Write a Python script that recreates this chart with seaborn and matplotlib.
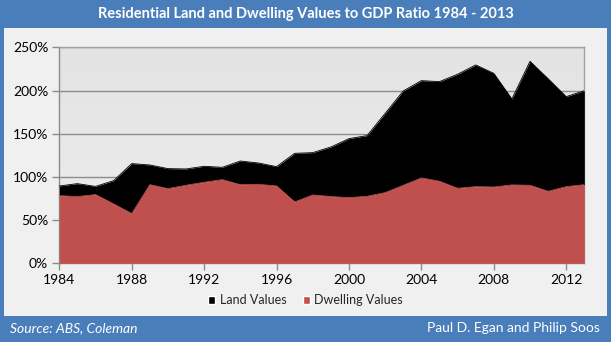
import numpy as np
import pandas as pd
import seaborn as sns
import matplotlib
matplotlib.use("Agg")
import matplotlib.pyplot as plt
from matplotlib.patches import Rectangle
from matplotlib.ticker import FuncFormatter

years = list(range(1984, 2014))
dwelling = [78.3, 77.2, 79.5, 68.7, 57.5, 91.0, 86.4, 90.3, 93.8, 96.8,
            91.0, 91.4, 89.5, 71.0, 79.1, 77.2, 76.0, 77.5, 81.8, 90.3,
            98.8, 94.9, 86.8, 88.7, 88.3, 90.7, 90.3, 83.3, 88.7, 91.0]
total = [89.5, 92.2, 89.0, 95.7, 115.4, 113.8, 109.6, 109.2, 112.3, 111.1,
         118.4, 116.1, 111.9, 127.3, 128.1, 134.6, 144.3, 147.8, 173.6, 199.5,
         211.4, 210.3, 218.8, 229.6, 219.9, 190.2, 233.8, 213.7, 192.9, 199.8]
land = [round(t - d, 1) for t, d in zip(total, dwelling)]
series_names = ["Land Values", "Dwelling Values"]
title = "Residential Land and Dwelling Values to GDP Ratio 1984 - 2013"
source = "Source: ABS, Coleman"
credit = "Paul D. Egan and Philip Soos"

df = pd.DataFrame({"Year": years, "Dwelling": dwelling, "Land": land})
df["Total"] = df["Dwelling"] + df["Land"]

sns.set_theme(style="white")
plt.rcParams["font.family"] = ["Lato", "DejaVu Sans"]

BLUE = "#4A7EBB"
RED = "#C0504D"

fig = plt.figure(figsize=(6.11, 3.46), dpi=100)
fig.patch.set_facecolor("#F0F0F0")

# frame
fig.add_artist(Rectangle((0, 1 - 28/346), 1, 28/346, transform=fig.transFigure,
                         facecolor=BLUE, edgecolor="none", zorder=1))
fig.add_artist(Rectangle((0, 0), 4/611, 1, transform=fig.transFigure,
                         facecolor=BLUE, edgecolor="none", zorder=1))
fig.add_artist(Rectangle((1 - 4/611, 0), 4/611, 1, transform=fig.transFigure,
                         facecolor=BLUE, edgecolor="none", zorder=1))
fig.add_artist(Rectangle((0, 4/346), 1, (342-316)/346, transform=fig.transFigure,
                         facecolor=BLUE, edgecolor="none", zorder=1))
fig.add_artist(Rectangle((0, 0), 1, 4/346, transform=fig.transFigure,
                         facecolor="#FFFFFF", edgecolor="none", zorder=1))

fig.text(0.5, 1 - 14/346, title, ha="center", va="center", color="white",
         fontsize=10.5, fontweight="bold")
fig.text(10/611, 1 - 328/346, source, ha="left", va="center", color="white",
         fontsize=10, fontstyle="italic")
fig.text(1 - 11/611, 1 - 328/346, credit, ha="right", va="center", color="white",
         fontsize=10)

ax = fig.add_axes([59.3/611, 1 - 263.3/346, 525/611, 216/346])
# gradient background
grad = np.linspace(0, 1, 256).reshape(-1, 1)
ax.imshow(grad, cmap=matplotlib.colors.LinearSegmentedColormap.from_list(
    "g", ["#E3E3E3", "#EEEEEE"]), extent=[0, 1, 0, 1], transform=ax.transAxes,
    aspect="auto", zorder=0, origin="upper")

ax.fill_between(df["Year"], df["Dwelling"], df["Total"], color="black", lw=0, zorder=3)
ax.fill_between(df["Year"], 0, df["Dwelling"], color=RED, lw=0, zorder=3)
sns.lineplot(data=df, x="Year", y="Total", color="black", lw=0.6, ax=ax, zorder=4)
sns.lineplot(data=df, x="Year", y="Dwelling", color=RED, lw=0.6, ax=ax, zorder=4)

ax.set_xlim(1984, 2013)
ax.set_ylim(0, 250)
ax.set_yticks(range(0, 251, 50))
ax.yaxis.set_major_formatter(FuncFormatter(lambda v, p: f"{int(v)}%"))
ax.set_xticks(range(1984, 2013, 4))
ax.set_xlabel("")
ax.set_ylabel("")
for y in range(50, 251, 50):
    ax.axhline(y, color="#8C8C8C", lw=1.0, zorder=1)
for s in ax.spines.values():
    s.set_color("#A0A0A0")
    s.set_linewidth(1.0)
ax.spines["left"].set_color("#8C8C8C")
ax.spines["bottom"].set_color("#8C8C8C")
ax.tick_params(axis="both", which="both", direction="out", length=5, width=1,
               color="#8C8C8C", labelsize=10, labelcolor="black", pad=3,
               left=True, bottom=True)

handles = [Rectangle((0, 0), 1, 1, facecolor="black"),
           Rectangle((0, 0), 1, 1, facecolor=RED)]
fig.legend(handles, series_names, loc="center", bbox_to_anchor=(0.5, 1 - 300/346),
           ncol=2, frameon=False, fontsize=9, handlelength=0.6, handleheight=0.6,
           handletextpad=0.35, columnspacing=1.3)

fig.savefig("out.png", dpi=100, facecolor=fig.get_facecolor())
